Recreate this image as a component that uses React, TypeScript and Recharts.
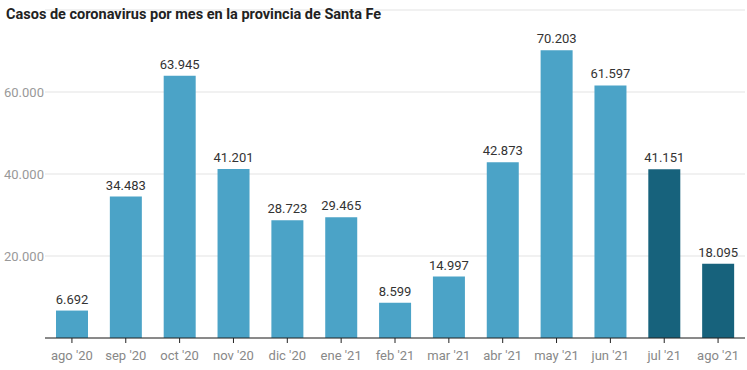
import { Bar, BarChart, CartesianGrid, Cell, LabelList, XAxis, YAxis } from "recharts";

const months = [
  "ago '20", "sep '20", "oct '20", "nov '20", "dic '20", "ene '21", "feb '21",
  "mar '21", "abr '21", "may '21", "jun '21", "jul '21", "ago '21",
];
const cases = [6692, 34483, 63945, 41201, 28723, 29465, 8599, 14997, 42873, 70203, 61597, 41151, 18095];
const highlighted = ["jul '21", "ago '21"];
const yTicks = [20000, 40000, 60000];

const data = months.map((month, i) => ({ month, cases: cases[i] }));

const fmt = (v: number) => String(v).replace(/\B(?=(\d{3})+(?!\d))/g, ".");

// y labels sit left-aligned at the page edge
const YTick = ({ y, payload }: any) => (
  <text x={4} y={y} dy={4.5} fill="#999" fontSize={13} textAnchor="start">
    {fmt(payload.value)}
  </text>
);

function App() {
  return (
    <div style={{ position: "absolute", top: 0, left: 0, width: 747, height: 370, fontFamily: "Roboto, sans-serif" }}>
      <div
        style={{
          position: "absolute",
          top: 6,
          left: 6,
          fontSize: 14.5,
          fontWeight: 700,
          color: "#222",
          zIndex: 1,
        }}
      >
        Casos de coronavirus por mes en la provincia de Santa Fe
      </div>
      <BarChart
        width={747}
        height={370}
        data={data}
        margin={{ top: 10, right: 2, bottom: 2, left: 0 }}
        barSize={32}
      >
        <CartesianGrid vertical={false} stroke="#e3e3e3" />
        <XAxis
          dataKey="month"
          stroke="#222"
          tick={{ fill: "#888", fontSize: 13 }}
          tickSize={5}
          tickMargin={8}
          height={30}
        />
        <YAxis
          domain={[0, 80000]}
          ticks={yTicks}
          width={45}
          axisLine={false}
          tickLine={false}
          tick={<YTick />}
        />
        <Bar dataKey="cases" isAnimationActive={false}>
          {data.map((d) => (
            <Cell key={d.month} fill={highlighted.includes(d.month) ? "#17627c" : "#4ba3c7"} />
          ))}
          <LabelList dataKey="cases" position="top" offset={7} fill="#333" fontSize={13} formatter={(v: any) => fmt(Number(v))} />
        </Bar>
      </BarChart>
    </div>
  );
}

export default App;
